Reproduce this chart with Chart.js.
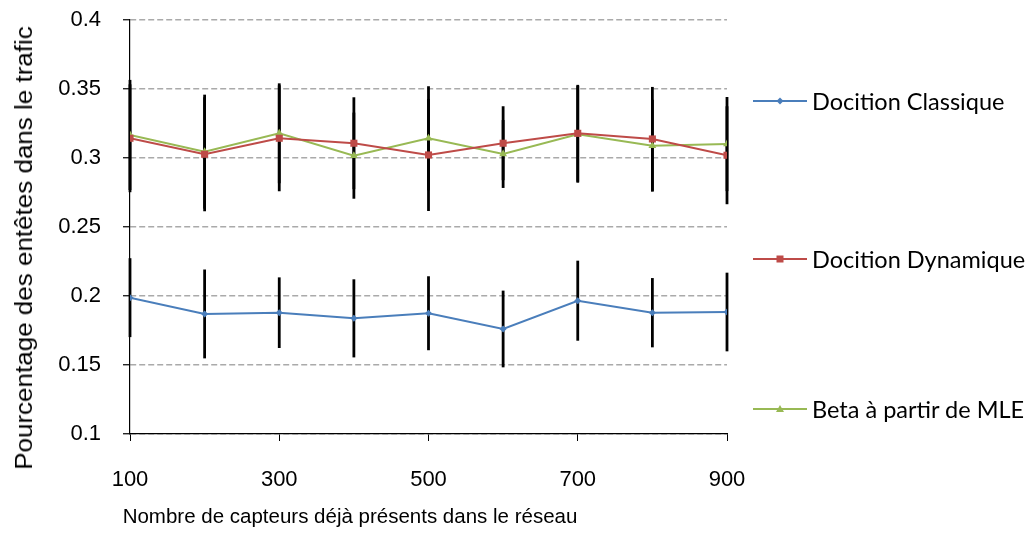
<!DOCTYPE html>
<html>
  <head>
    <title>Pourcentage des entêtes</title>
    <script src="https://cdn.jsdelivr.net/npm/chart.js"></script>
    <style>
      body { margin: 0; background: #fff; }
      #wrap { position: relative; width: 1034px; height: 535px; }
      .leg {
        position: absolute;
        left: 752px;
        height: 30px;
        display: flex;
        align-items: center;
        font-family: Lato, sans-serif;
        font-size: 23.5px;
        color: #000;
        white-space: nowrap;
      }
      .leg svg { margin-right: 4px; }
      .titre {
        position: absolute;
        font-family: "Liberation Sans", Arial, sans-serif;
        color: #000;
        white-space: nowrap;
        text-align: center;
      }
      #titreX { left: 50px; width: 600px; top: 503px; font-size: 20.5px; line-height: 26px; }
      #titreY {
        left: -226px; width: 500px; top: 235px; font-size: 23px; line-height: 26px;
        transform: rotate(-90deg) scaleX(1.13);
      }
    </style>
  </head>
  <body>
    <div id="wrap">
      <canvas id="myChart" width="1034" height="535"></canvas>
      <div class="titre" id="titreX">Nombre de capteurs déjà présents dans le réseau</div>
      <div class="titre" id="titreY">Pourcentage des entêtes dans le trafic</div>
      <div class="leg" style="top:86px">
        <svg width="56" height="12"><line x1="1" y1="6" x2="55" y2="6" stroke="#4A7EBB" stroke-width="2"/><polygon points="28,2.5 31.5,6 28,9.5 24.5,6" fill="#4A7EBB"/></svg>Docition Classique
      </div>
      <div class="leg" style="top:244px">
        <svg width="56" height="12"><line x1="1" y1="6" x2="55" y2="6" stroke="#BE4B48" stroke-width="2"/><rect x="24.5" y="2.5" width="7" height="7" fill="#BE4B48"/></svg>Docition Dynamique
      </div>
      <div class="leg" style="top:394px">
        <svg width="56" height="12"><line x1="1" y1="6" x2="55" y2="6" stroke="#98B954" stroke-width="2"/><polygon points="28,2 32,9 24,9" fill="#98B954"/></svg>Beta à partir de MLE
      </div>
    </div>

<script>
// nombre de capteurs (axe x)
const capteurs = [100, 200, 300, 400, 500, 600, 700, 800, 900];

// valeurs
const classique = [0.1988, 0.1870, 0.1879, 0.1838, 0.1875, 0.1761, 0.1966, 0.1879, 0.1884];
const dynamique = [0.3143, 0.3027, 0.3143, 0.3107, 0.3022, 0.3107, 0.3179, 0.3138, 0.3020];
const betaMLE   = [0.3167, 0.3046, 0.3179, 0.3017, 0.3143, 0.3029, 0.3172, 0.3089, 0.3101];

// demi-longueurs des barres d'erreur
const errClassique = [0.0286, 0.0322, 0.0256, 0.0283, 0.0268, 0.0278, 0.0290, 0.0251, 0.0285];
const errDynamique = [0.0391, 0.0413, 0.0384, 0.0333, 0.0406, 0.0268, 0.0351, 0.0377, 0.0355];
const errBeta      = [0.0399, 0.0413, 0.0362, 0.0312, 0.0377, 0.0246, 0.0351, 0.0333, 0.0341];

const yTicks = [0.1, 0.15, 0.2, 0.25, 0.3, 0.35, 0.4];

const toPoints = vals => vals.map((v, i) => ({ x: capteurs[i], y: v }));
const erreurs = [errClassique, errDynamique, errBeta];

// dessine les barres d'erreur verticales avant les courbes
const errorBars = {
  id: 'errorBars',
  beforeDatasetsDraw(chart) {
    const { ctx, scales: { x, y } } = chart;
    ctx.save();
    ctx.strokeStyle = '#000';
    ctx.lineWidth = 2.8;
    chart.data.datasets.forEach((ds, d) => {
      ds.data.forEach((pt, i) => {
        const e = erreurs[d][i];
        const px = x.getPixelForValue(pt.x);
        ctx.beginPath();
        ctx.moveTo(px, y.getPixelForValue(pt.y - e));
        ctx.lineTo(px, y.getPixelForValue(pt.y + e));
        ctx.stroke();
      });
    });
    ctx.restore();
  }
};

const ctx = document.getElementById('myChart').getContext('2d');
const chart = new Chart(ctx, {
  type: 'line',
  data: {
    datasets: [
      {
        label: 'Docition Classique',
        data: toPoints(classique),
        borderColor: '#4A7EBB',
        backgroundColor: '#4A7EBB',
        borderWidth: 2,
        pointStyle: 'rectRot',
        pointRadius: 3.5,
        pointBorderWidth: 0,
      },
      {
        label: 'Docition Dynamique',
        data: toPoints(dynamique),
        borderColor: '#BE4B48',
        backgroundColor: '#BE4B48',
        borderWidth: 2,
        pointStyle: 'rect',
        pointRadius: 5,
        pointBorderWidth: 0,
      },
      {
        label: 'Beta à partir de MLE',
        data: toPoints(betaMLE),
        borderColor: '#98B954',
        backgroundColor: '#98B954',
        borderWidth: 2,
        pointStyle: 'triangle',
        pointRadius: 4.5,
        pointBorderWidth: 0,
      },
    ],
  },
  options: {
    responsive: false,
    animation: false,
    layout: { padding: { top: 20, right: 307, left: 0, bottom: 0 } },
    plugins: {
      legend: { display: false },
      tooltip: { enabled: false },
    },
    scales: {
      x: {
        type: 'linear',
        min: 100,
        max: 900,
        afterFit: s => { s.height = 101; },
        ticks: {
          stepSize: 200,
          color: '#000',
          padding: 26,
          font: { family: 'Liberation Sans', size: 22 },
        },
        grid: { drawOnChartArea: false, tickLength: 7, color: '#000' },
        border: { color: '#000', width: 1.2 },
      },
      y: {
        min: 0.1,
        max: 0.4,
        // largeur fixe, et pas de marge en haut/bas due aux étiquettes
        afterFit: s => { s.width = 130; s.paddingTop = 0; s.paddingBottom = 0; },
        afterBuildTicks: s => { s.ticks = yTicks.map(v => ({ value: v })); },
        ticks: {
          color: '#000',
          padding: 22,
          callback: v => String(+v.toFixed(2)),
          font: { family: 'Liberation Sans', size: 22 },
        },
        grid: {
          color: '#aaaaaa',
          lineWidth: 1.5,
          tickLength: 7,
          tickColor: '#000',
          tickBorderDash: [],
          tickWidth: 1.2,
        },
        border: { color: '#000', width: 1.2, dash: [6, 3] },
      },
    },
  },
  plugins: [errorBars],
});
</script>
  </body>
</html>
